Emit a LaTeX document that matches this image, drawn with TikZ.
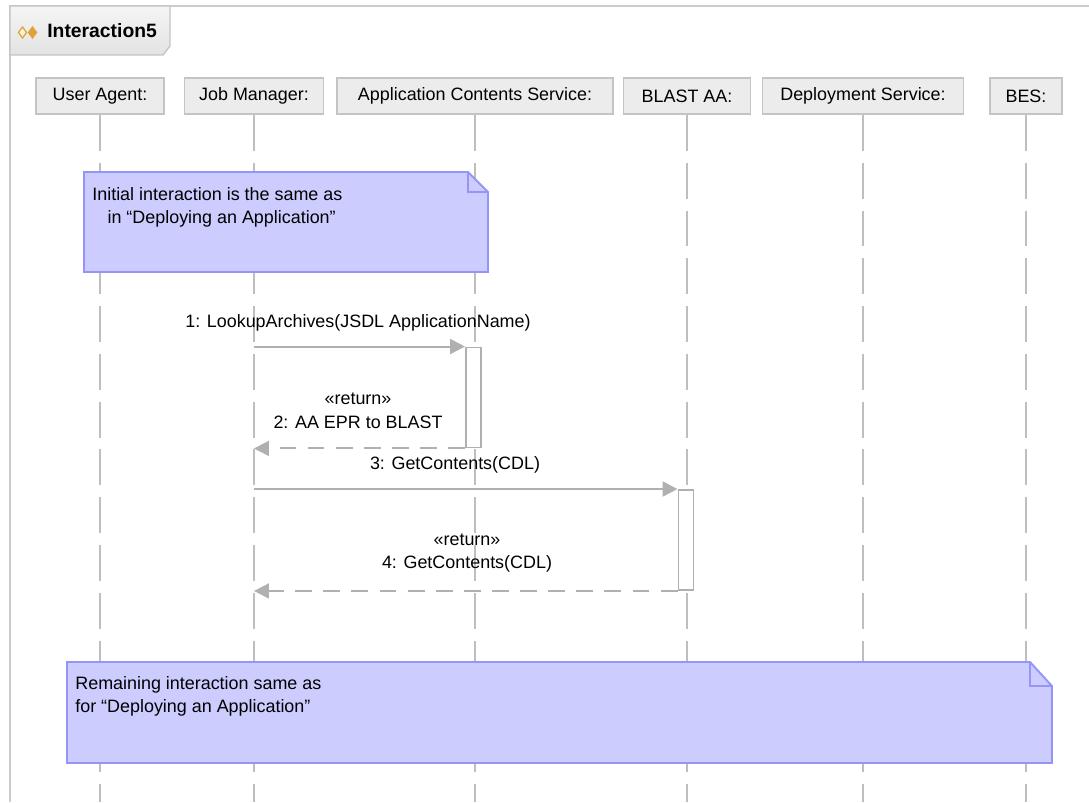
\documentclass[tikz,border=0pt]{standalone}
\usepackage{fontspec}
\setmainfont{Liberation Sans}
\usepackage{xcolor}
\usepackage{tikz}
\usetikzlibrary{arrows.meta}

\definecolor{linegray}{HTML}{B0B0B0}
\definecolor{lifegray}{HTML}{BEBEBE}
\definecolor{framegray}{HTML}{CCCCCC}
\definecolor{headfill}{HTML}{ECECEC}
\definecolor{headdraw}{HTML}{C4C4C4}
\definecolor{notefill}{HTML}{CCCCFF}
\definecolor{notedraw}{HTML}{9595F8}
\definecolor{iconorange}{HTML}{E0A03A}
\definecolor{iconlight}{HTML}{FFF4D8}

\begin{document}
\begin{tikzpicture}[
  x=0.02cm, y=-0.02cm,
  every node/.style={font=\fontsize{10.2}{13.4}\selectfont},
  head/.style={draw=headdraw, line width=1.1pt, fill=headfill, minimum height=0.72cm, minimum width=#1, inner sep=0pt},
  lifeline/.style={draw=lifegray, line width=1.1pt, dash pattern=on 20.4pt off 6.8pt},
  note/.style={draw=notedraw, fill=notefill, line width=1.1pt, line join=miter},
  notetext/.style={anchor=north west, inner sep=0pt, align=left},
  act/.style={draw=linegray, fill=white, line width=1.1pt, minimum width=0.3cm, inner sep=0pt},
  msg/.style={draw=linegray, line width=1.1pt, -{Triangle[length=8.5pt,width=8.5pt]}},
  ret/.style={msg, dash pattern=on 9.6pt off 6.4pt},
  mlabel/.style={align=center, inner sep=0pt},
]
\useasboundingbox (0,0) rectangle (1089,802);

% frame and title tab
\draw[framegray, line width=1.1pt] (10,802) -- (10,6) -- (1089,6);
\draw[draw=headdraw, line width=0.8pt, top color=white!96!black, bottom color=white!89!black]
  (10,6) -- (170,6) -- (170,46) -- (163,55) -- (10,55) -- cycle;
\draw[iconorange, fill=iconlight, line width=0.7pt] (22.5,27) -- (26.5,32.5) -- (22.5,38) -- (18.5,32.5) -- cycle;
\draw[iconorange, fill=iconorange, line width=0.7pt] (32.5,27) -- (36.5,32.5) -- (32.5,38) -- (28.5,32.5) -- cycle;
\node[font=\bfseries\fontsize{11}{13}\selectfont, anchor=west, inner sep=0pt] (title) at (47,31) {Interaction5};

% lifeline heads
\node[head=2.56cm] (ua) at (100,96) {User Agent:};
\node[head=2.78cm] (jm) at (254,96) {Job Manager:};
\node[head=5.52cm] (acs) at (475,96) {Application Contents Service:};
\node[head=2.54cm] (aa) at (687,96) {BLAST AA:};
\node[head=4.02cm] (ds) at (863,96) {Deployment Service:};
\node[head=1.44cm] (bes) at (1026,96) {BES:};

\coordinate (bottom) at (0,802);
\foreach \p in {ua,jm,acs,aa,ds,bes}
  \draw[lifeline] (\p.south) -- (\p |- bottom);

% notes
\draw[note] (84,172) -- (468,172) -- (488,192) -- (488,272) -- (84,272) -- cycle;
\draw[note, fill=none] (468,172) -- (468,192) -- (488,192);
\node[notetext] (note1) at (92,187)
  {Initial interaction is the same as\\\hspace*{0.85em}in “Deploying an Application”};

\draw[note] (67,662) -- (1030,662) -- (1052,686) -- (1052,763) -- (67,763) -- cycle;
\draw[note, fill=none] (1030,662) -- (1030,686) -- (1052,686);
\node[notetext] (note2) at (75,676)
  {Remaining interaction same as\\for “Deploying an Application”};

% activations
\node[act, minimum height=2cm] (act1) at (473.5,397.5) {};
\node[act, minimum height=2cm] (act2) at (686,540) {};

% messages
\draw[msg] (jm |- act1.north) -- (act1.north west);
\draw[ret] (act1.south west) -- (jm |- act1.south);
\draw[msg] (jm |- act2.north) -- (act2.north west);
\draw[ret] (act2.south west) -- (jm |- act2.south);

\node[mlabel] (m1) at (358,323) {1: LookupArchives(JSDL ApplicationName)};
\node[mlabel] (m2) at (358,411) {«return»\\2: AA EPR to BLAST};
\node[mlabel] (m3) at (455,465) {3: GetContents(CDL)};
\node[mlabel] (m4) at (467,553) {«return»\\4: GetContents(CDL)};
\end{tikzpicture}
\end{document}
